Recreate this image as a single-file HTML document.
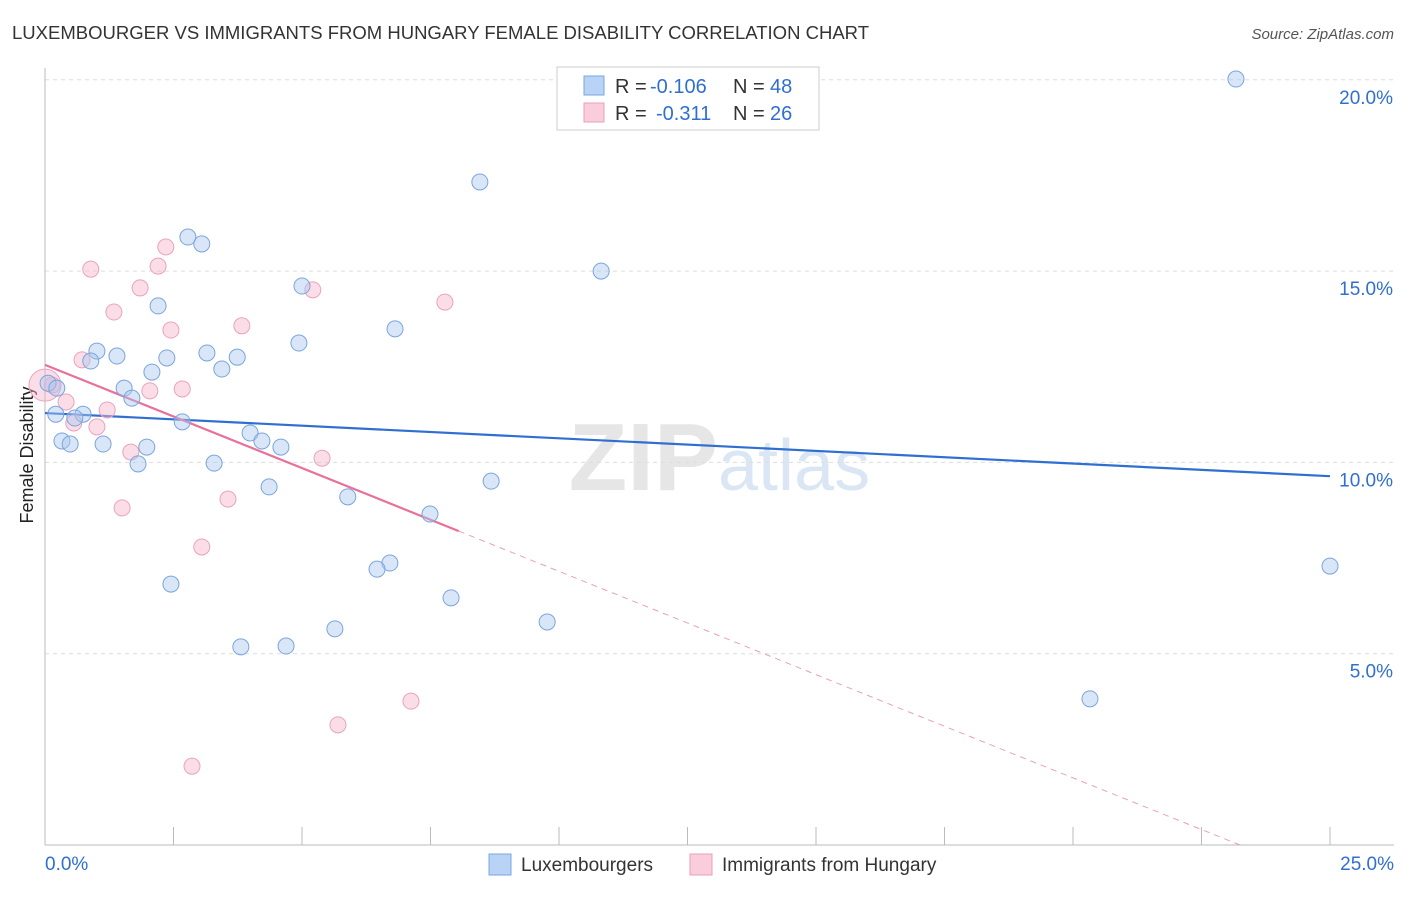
<!DOCTYPE html>
<html><head><meta charset="utf-8">
<style>
body{margin:0;background:#fff;font-family:"Liberation Sans",sans-serif;}
svg text{font-family:"Liberation Sans",sans-serif;}
</style></head>
<body>
<svg id="chart" width="1406" height="892" viewBox="0 0 1406 892" xmlns="http://www.w3.org/2000/svg">
<text x="12" y="39" font-size="18" fill="#333" textLength="857" lengthAdjust="spacingAndGlyphs">LUXEMBOURGER VS IMMIGRANTS FROM HUNGARY FEMALE DISABILITY CORRELATION CHART</text>
<text x="1394" y="39" font-size="15" fill="#555" font-style="italic" text-anchor="end">Source: ZipAtlas.com</text>
<text x="718" y="490" font-size="96" fill="#e6e6e6" font-family="Liberation Serif" text-anchor="end" font-weight="bold">ZIP</text>
<text x="718" y="490" font-size="72" fill="#dbe6f5">atlas</text>
<text x="33" y="455" font-size="18" fill="#222" text-anchor="middle" transform="rotate(-90 33 455)">Female Disability</text>
<g id="grid"></g>
<g id="axes"></g>
<g id="lines"></g>
<g id="points"></g>
<g>
<rect x="557" y="67" width="262" height="63" fill="#fff" stroke="#ccc"/>
<rect x="584" y="76" width="20" height="19" fill="#b8d3f5" stroke="#7aa7e0"/>
<text x="615" y="93" font-size="20" fill="#333">R =</text>
<text x="650" y="93" font-size="20" fill="#2f6fd1">-0.106</text>
<text x="733" y="93" font-size="20" fill="#333">N =</text>
<text x="770" y="93" font-size="20" fill="#2f6fd1">48</text>
<rect x="584" y="103" width="20" height="19" fill="#f9cddc" stroke="#e9a0b9"/>
<text x="615" y="120" font-size="20" fill="#333">R =</text>
<text x="656" y="120" font-size="20" fill="#2f6fd1">-0.311</text>
<text x="733" y="120" font-size="20" fill="#333">N =</text>
<text x="770" y="120" font-size="20" fill="#2f6fd1">26</text>
</g>
<g>
<rect x="489" y="854" width="22" height="21" fill="#b8d3f5" stroke="#7aa7e0"/>
<text x="521" y="871" font-size="19" fill="#333">Luxembourgers</text>
<rect x="690" y="854" width="22" height="21" fill="#f9cddc" stroke="#e9a0b9"/>
<text x="722" y="871" font-size="19" fill="#333">Immigrants from Hungary</text>
</g>
</svg>
<script>
const blueX=[23.17,8.46,2.78,3.05,10.82,2.20,5.00,6.81,4.94,1.01,1.40,0.89,2.37,3.15,3.74,3.44,2.08,1.54,1.69,0.21,0.74,0.58,2.67,3.99,4.22,4.59,0.33,0.49,1.13,1.98,1.81,3.29,4.36,8.68,5.89,7.49,6.71,6.46,2.45,7.90,25.0,9.77,5.64,3.81,4.69,20.33,0.06,0.23];
const blueY=[20.02,17.33,15.89,15.71,15.00,14.09,14.61,13.49,13.12,12.91,12.78,12.65,12.73,12.86,12.75,12.44,12.36,11.94,11.68,11.26,11.26,11.16,11.06,10.77,10.56,10.40,10.56,10.48,10.48,10.40,9.96,9.98,9.36,9.51,9.10,8.65,7.37,7.21,6.82,6.46,7.29,5.83,5.65,5.18,5.20,3.82,12.07,11.94];
const pinkX=[0.89,2.35,2.20,1.85,5.21,7.78,1.34,3.83,2.45,0.72,2.04,2.67,0.41,1.21,0.56,1.01,1.67,5.39,3.56,1.50,3.05,7.12,5.70,2.86,0.14,0.0];
const pinkY=[15.05,15.63,15.13,14.56,14.51,14.19,13.93,13.57,13.46,12.68,11.87,11.92,11.58,11.37,11.03,10.93,10.27,10.11,9.04,8.81,7.79,3.76,3.14,2.06,12.02,12.02];
const yTicks=[5,10,15,20];
const yTickLabels=["5.0%","10.0%","15.0%","20.0%"];
const xTickLabels=["0.0%","25.0%"];
const blueTrend=[11.29,9.64];
const pinkTrend=[12.55,0];
const pinkSolidEnd=8.05;
const pinkZeroX=23.25;

const NS="http://www.w3.org/2000/svg";
const X0=45,X1=1330,Y0=845,PY=38.26;
const sx=v=>X0+(X1-X0)*v/25;
const sy=v=>Y0-PY*v;
function mk(tag,attrs,parent){const e=document.createElementNS(NS,tag);for(const k in attrs)e.setAttribute(k,attrs[k]);document.getElementById(parent).appendChild(e);return e;}

yTicks.forEach((t,i)=>{
  const g=mk('line',{x1:X0,x2:1394,y1:sy(t),y2:sy(t),stroke:'#ddd','stroke-dasharray':'4,4'},'grid');
  
  
  const l=mk('text',{x:1393,y:sy(t)+24,'font-size':19,fill:'#2f6fd1','text-anchor':'end'},'axes');
  l.textContent=yTickLabels[i];
  
  
});
const ax=mk('line',{x1:X0,x2:1394,y1:Y0,y2:Y0,stroke:'#bbb'},'axes');


const ay=mk('line',{x1:X0,x2:X0,y1:68,y2:Y0,stroke:'#bbb'},'axes');


for(let i=0;i<=10;i++){
  const t=mk('line',{x1:sx(i*2.5),x2:sx(i*2.5),y1:Y0-18,y2:Y0,stroke:'#bbb'},'axes');
  
  
}
[[0,'start',X0],[25,'end',1394]].forEach((d,i)=>{
  const l=mk('text',{x:d[2],y:870,'font-size':19,fill:'#2f6fd1','text-anchor':d[1]},'axes');
  l.textContent=xTickLabels[i];
  
  
});

const bl=mk('line',{x1:sx(0),y1:sy(blueTrend[0]),x2:sx(25),y2:sy(blueTrend[1]),stroke:'#2f6fd1','stroke-width':2.2},'lines');


const pv=x=>pinkTrend[0]+(pinkTrend[1]-pinkTrend[0])*x/pinkZeroX;
const pl=mk('line',{x1:sx(0),y1:sy(pv(0)),x2:sx(pinkSolidEnd),y2:sy(pv(pinkSolidEnd)),stroke:'#e8709a','stroke-width':2.2},'lines');


const pd=mk('line',{x1:sx(pinkSolidEnd),y1:sy(pv(pinkSolidEnd)),x2:sx(pinkZeroX),y2:sy(0),stroke:'#e8a0b8','stroke-width':1,'stroke-dasharray':'6,5'},'lines');



pinkX.forEach((x,i)=>{
  const c=mk('circle',{cx:sx(x),cy:sy(pinkY[i]),r:i===pinkX.length-1?16:8,fill:'rgba(246,180,204,0.45)',stroke:'#eaa3bc','stroke-width':1},'points');
  
  
});
blueX.forEach((x,i)=>{
  const c=mk('circle',{cx:sx(x),cy:sy(blueY[i]),r:8,fill:'rgba(170,200,240,0.45)',stroke:'#7aa5dc','stroke-width':1},'points');
  
  
});
</script>
</body></html>
